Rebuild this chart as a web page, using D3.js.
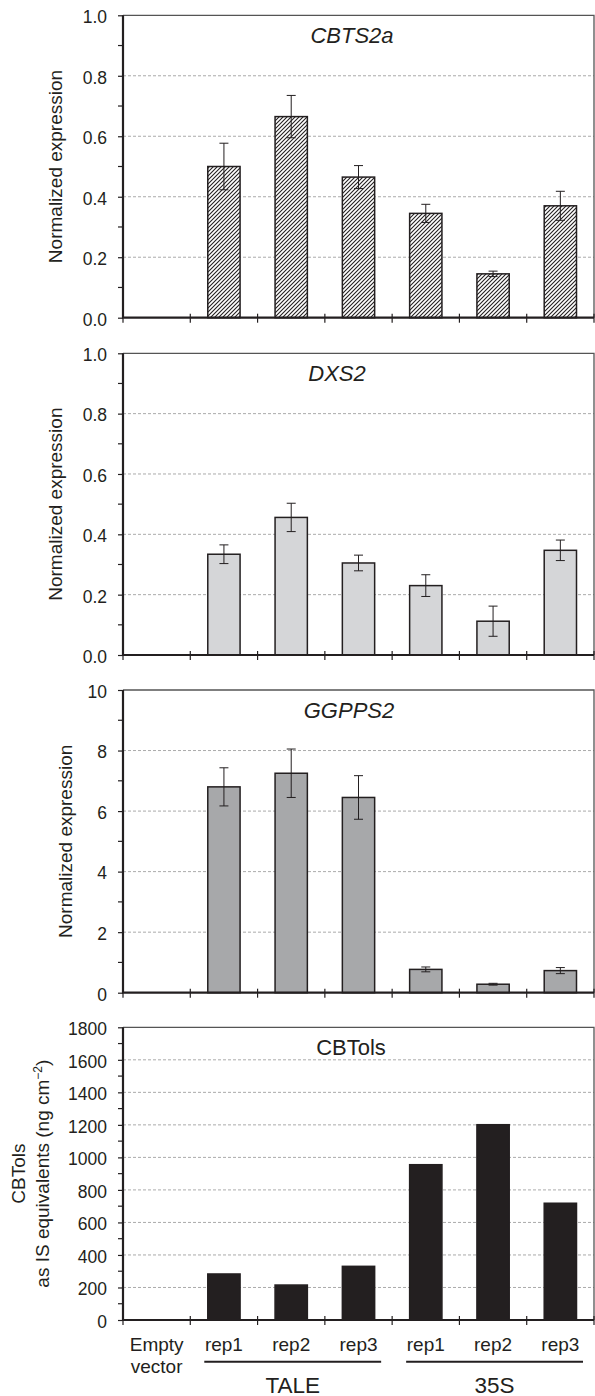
<!DOCTYPE html>
<html>
<head>
<meta charset="utf-8">
<script src="https://cdn.jsdelivr.net/npm/d3@7"></script>
<style>
	body { margin: 0; background: #fff; }
	text { font-family: "Liberation Sans", Arial, sans-serif; fill: #231f20; }
</style>
</head>
<body>
<div id="chart"></div>
<script>
// category labels along the shared x axis
const categories = ['Empty vector', 'rep1', 'rep2', 'rep3', 'rep1', 'rep2', 'rep3'];
const groupNames = ['TALE', '35S'];
const groupSpans = [[1, 3], [4, 6]];

// panel titles
const panelTitles = ['CBTS2a', 'DXS2', 'GGPPS2', 'CBTols'];

// values (null = no bar)
const cbts2aValues = [null, 0.50, 0.665, 0.465, 0.345, 0.145, 0.37];
const cbts2aErrors = [null, 0.077, 0.07, 0.038, 0.03, 0.009, 0.048];

const dxs2Values = [null, 0.334, 0.456, 0.305, 0.23, 0.112, 0.347];
const dxs2Errors = [null, 0.031, 0.047, 0.026, 0.036, 0.05, 0.034];

const ggpps2Values = [null, 6.80, 7.25, 6.45, 0.77, 0.28, 0.73];
const ggpps2Errors = [null, 0.63, 0.80, 0.72, 0.08, 0.03, 0.10];

const cbtolsValues = [null, 283, 215, 330, 955, 1201, 718];

// y axis ticks
const ticksExpr = [0, 0.2, 0.4, 0.6, 0.8, 1.0];
const minorExpr = [0.1, 0.3, 0.5, 0.7, 0.9];
const ticksGgpps = [0, 2, 4, 6, 8, 10];
const minorGgpps = [1, 3, 5, 7, 9];
const ticksCbtols = [0, 200, 400, 600, 800, 1000, 1200, 1400, 1600, 1800];
const minorCbtols = [100, 300, 500, 700, 900, 1100, 1300, 1500, 1700];

const width = 595, height = 1396;
const left = 123, right = 594;

const svg = d3.select('#chart').append('svg')
	.attr('width', width)
	.attr('height', height);

let defs = svg.append('defs');
let hatch = defs.append('pattern')
	.attr('id', 'hatch')
	.attr('patternUnits', 'userSpaceOnUse')
	.attr('width', 4)
	.attr('height', 4);
hatch.append('rect').attr('width', 4).attr('height', 4).attr('fill', '#fff');
hatch.append('path')
	.attr('d', 'M-1,1 l2,-2 M0,4 l4,-4 M3,5 l2,-2')
	.attr('stroke', '#231f20')
	.attr('stroke-width', 1.1);

const x = d3.scaleBand()
	.domain(d3.range(categories.length))
	.range([left, right]);

const barWidth = x.bandwidth() * 0.48;

let panels = [
	{title: panelTitles[0], italic: true, titleX: 352, top: 15.3, h: 302.4, max: 1.0, values: cbts2aValues, errors: cbts2aErrors,
		ticks: ticksExpr, minor: minorExpr, fmt: d3.format('.1f'), fill: 'url(#hatch)', stroke: '#231f20', ylab: ['Normalized expression'], ylabX: [61.7]},
	{title: panelTitles[1], italic: true, titleX: 337, top: 353.3, h: 301.7, max: 1.0, values: dxs2Values, errors: dxs2Errors,
		ticks: ticksExpr, minor: minorExpr, fmt: d3.format('.1f'), fill: '#d5d6d8', stroke: '#231f20', ylab: ['Normalized expression'], ylabX: [61.7]},
	{title: panelTitles[2], italic: true, titleX: 349, top: 690, h: 302.7, max: 10, values: ggpps2Values, errors: ggpps2Errors,
		ticks: ticksGgpps, minor: minorGgpps, fmt: d3.format('d'), fill: '#a7a8aa', stroke: '#231f20', ylab: ['Normalized expression'], ylabX: [71.7]},
	{title: panelTitles[3], italic: false, titleX: 351, top: 1027.3, h: 292.7, max: 1800, values: cbtolsValues, errors: null,
		ticks: ticksCbtols, minor: minorCbtols, fmt: d3.format('d'), fill: '#231f20', stroke: '#231f20', ylab: ['CBTols', 'as IS equivalents (ng cm'], ylabX: [25, 48.5]}
];

panels.forEach(function(p, pi) {
	let g = svg.append('g').attr('class', 'panel');
	let y = d3.scaleLinear()
		.domain([0, p.max])
		.range([p.top + p.h, p.top]);

	// dashed gridlines
	g.selectAll('line.grid')
		.data(p.ticks.filter(d => d > 0 && d < p.max))
		.enter().append('line')
			.attr('class', 'grid')
			.attr('x1', left).attr('x2', right)
			.attr('y1', d => y(d)).attr('y2', d => y(d))
			.attr('stroke', '#a0a0a0')
			.attr('stroke-width', 0.9)
			.attr('stroke-dasharray', '3,2');

	// frame top and right
	g.append('path')
		.attr('d', 'M' + left + ',' + y(p.max) + 'H' + right + 'V' + y(0))
		.attr('fill', 'none')
		.attr('stroke', '#555')
		.attr('stroke-width', 1.3);

	// bars
	g.selectAll('rect.bar')
		.data(p.values.map((v, i) => ({i: i, v: v})).filter(d => d.v !== null))
		.enter().append('rect')
			.attr('class', 'bar')
			.attr('x', d => x(d.i) + (x.bandwidth() - barWidth) / 2)
			.attr('y', d => y(d.v))
			.attr('width', barWidth)
			.attr('height', d => y(0) - y(d.v))
			.attr('fill', p.fill)
			.attr('stroke', p.stroke)
			.attr('stroke-width', 1.5);

	// error bars
	if (p.errors) {
		let eb = g.selectAll('g.err')
			.data(p.values.map((v, i) => ({i: i, v: v, e: p.errors[i]})).filter(d => d.v !== null))
			.enter().append('g')
				.attr('class', 'err')
				.attr('transform', d => 'translate(' + (x(d.i) + x.bandwidth() / 2) + ',0)')
				.attr('stroke', '#231f20')
				.attr('stroke-width', 1);
		eb.append('line')
			.attr('y1', d => y(d.v - d.e)).attr('y2', d => y(d.v + d.e));
		eb.append('line')
			.attr('x1', -4.5).attr('x2', 4.5)
			.attr('y1', d => y(d.v + d.e)).attr('y2', d => y(d.v + d.e));
		eb.append('line')
			.attr('x1', -4.5).attr('x2', 4.5)
			.attr('y1', d => y(d.v - d.e)).attr('y2', d => y(d.v - d.e));
	}

	// y axis
	let yAxis = d3.axisLeft(y)
		.tickValues(p.ticks)
		.tickFormat(p.fmt)
		.tickSizeInner(5)
		.tickSizeOuter(0)
		.tickPadding(11);
	let ya = g.append('g')
		.attr('transform', 'translate(' + left + ',0)')
		.call(yAxis);
	ya.select('.domain').remove();
	ya.selectAll('.tick line').attr('stroke', '#231f20').attr('stroke-width', 1.2);
	ya.selectAll('.tick text')
		.attr('dy', '0.42em')
		.style('font-size', '17.5px')
		.style('font-family', '"Liberation Sans", Arial, sans-serif')
		.attr('fill', '#231f20');
	g.selectAll('line.minor')
		.data(p.minor)
		.enter().append('line')
			.attr('class', 'minor')
			.attr('x1', left - 5).attr('x2', left)
			.attr('y1', d => y(d)).attr('y2', d => y(d))
			.attr('stroke', '#231f20')
			.attr('stroke-width', 1.2);

	// x ticks at band edges
	let edges = d3.range(categories.length + 1).map(i => left + i * x.bandwidth());
	g.selectAll('line.xtick')
		.data(edges)
		.enter().append('line')
			.attr('class', 'xtick')
			.attr('x1', d => d).attr('x2', d => d)
			.attr('y1', y(0) - 4).attr('y2', y(0) + 5)
			.attr('stroke', '#231f20')
			.attr('stroke-width', 1.2);

	// axis lines
	g.append('path')
		.attr('d', 'M' + left + ',' + y(p.max) + 'V' + y(0) + 'H' + right)
		.attr('fill', 'none')
		.attr('stroke', '#231f20')
		.attr('stroke-width', 2.2);

	// panel title
	g.append('text')
		.attr('x', p.titleX)
		.attr('y', p.top + 27.5)
		.attr('text-anchor', 'middle')
		.style('font-size', '22px')
		.style('font-style', p.italic ? 'italic' : 'normal')
		.text(p.title);

	// y label
	let cy = p.top + p.h / 2;
	p.ylab.forEach(function(line, li) {
		let t = g.append('text')
			.attr('transform', 'translate(' + p.ylabX[li] + ',' + cy + ') rotate(-90)')
			.attr('text-anchor', 'middle')
			.style('font-size', '19px')
			.text(line);
		if (pi === 3 && li === 1) {
			t.append('tspan').attr('baseline-shift', 'super').style('font-size', '12px').text('\u22122');
			t.append('tspan').text(')');
		}
	});

	// category labels under the last panel
	if (pi === panels.length - 1) {
		let base = y(0);
		categories.forEach(function(c, i) {
			let words = i === 0 ? c.split(' ') : [c];
			let t = g.append('text')
				.attr('x', x(i) + x.bandwidth() / 2)
				.attr('y', base + 30.7)
				.attr('text-anchor', 'middle')
				.style('font-size', '19px');
			words.forEach(function(w, wi) {
				t.append('tspan')
					.attr('x', x(i) + x.bandwidth() / 2)
					.attr('dy', wi === 0 ? 0 : 22)
					.text(w);
			});
		});
		groupNames.forEach(function(name, gi) {
			let a = x(groupSpans[gi][0]) + 14;
			let b = x(groupSpans[gi][1]) + x.bandwidth() - 11;
			g.append('line')
				.attr('x1', a).attr('x2', b)
				.attr('y1', base + 41.7).attr('y2', base + 41.7)
				.attr('stroke', '#231f20')
				.attr('stroke-width', 2);
			g.append('text')
				.attr('x', (a + b) / 2)
				.attr('y', base + 72.5)
				.attr('text-anchor', 'middle')
				.style('font-size', '22.5px')
				.text(name);
		});
	}
});
</script>
</body>
</html>
